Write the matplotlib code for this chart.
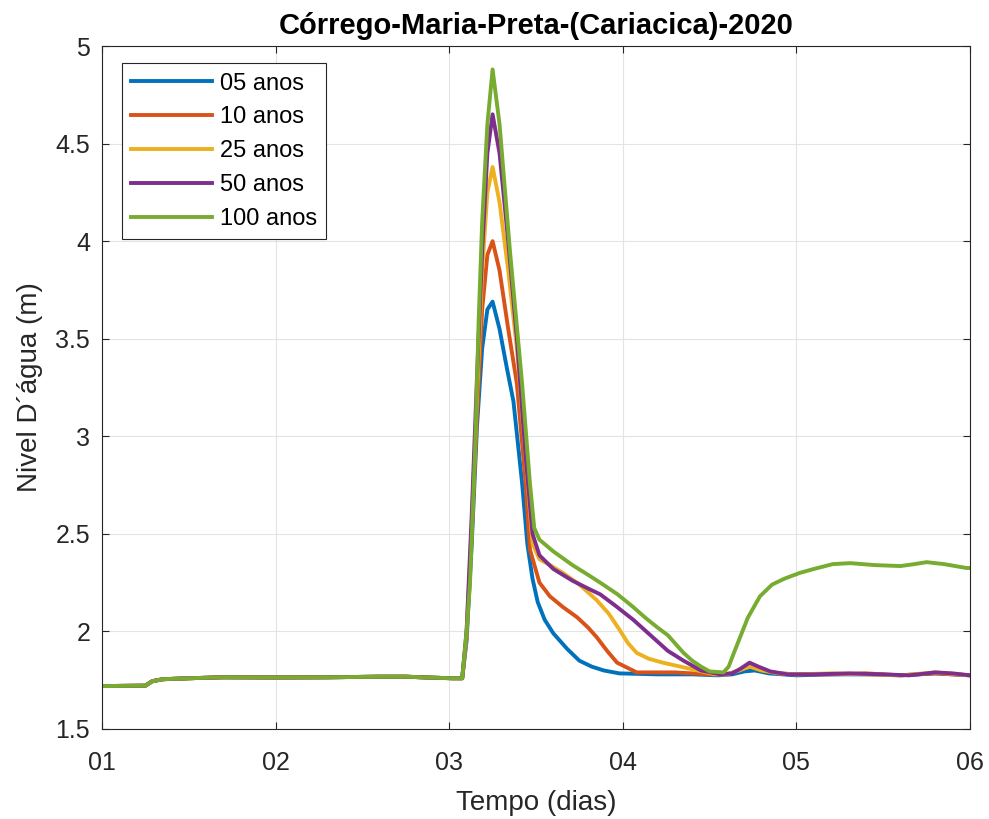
import matplotlib.pyplot as plt
from matplotlib.ticker import FuncFormatter

plt.rcParams['font.family'] = ['Liberation Sans', 'DejaVu Sans']

# baseline before the event (shared by all return periods)
t_base = [1.0, 1.25, 1.29, 1.35, 1.5, 1.7, 2.0, 2.3, 2.6, 2.75, 2.9, 3.02, 3.075]
y_base = [1.72, 1.722, 1.745, 1.755, 1.76, 1.765, 1.764, 1.765, 1.768, 1.768, 1.763, 1.76, 1.76]

t_05 = [3.1, 3.13, 3.16, 3.19, 3.22, 3.25, 3.29, 3.33, 3.37, 3.42, 3.45, 3.48, 3.51, 3.55,
        3.6, 3.68, 3.75, 3.82, 3.89, 3.98, 4.2, 4.4, 4.55, 4.63, 4.7, 4.76, 4.84, 5.0, 5.2,
        5.4, 5.6, 5.8, 6.0]
y_05 = [1.95, 2.45, 3.05, 3.45, 3.65, 3.69, 3.55, 3.36, 3.18, 2.76, 2.45, 2.27, 2.15, 2.06,
        1.99, 1.91, 1.85, 1.82, 1.8, 1.785, 1.78, 1.78, 1.775, 1.78, 1.795, 1.8, 1.785, 1.775, 1.78,
        1.78, 1.775, 1.785, 1.775]

t_10 = [3.1, 3.13, 3.16, 3.19, 3.22, 3.25, 3.29, 3.34, 3.39, 3.44, 3.465, 3.52, 3.58, 3.655,
        3.736, 3.8, 3.85, 3.91, 3.967, 4.08, 4.3, 4.5, 4.6, 4.67, 4.73, 4.8, 4.9, 5.0, 5.2,
        5.4, 5.6, 5.8, 6.0]
y_10 = [1.97, 2.5, 3.1, 3.65, 3.93, 4.0, 3.85, 3.55, 3.27, 2.76, 2.42, 2.25, 2.18, 2.125,
        2.073, 2.02, 1.97, 1.9, 1.84, 1.79, 1.79, 1.78, 1.78, 1.8, 1.82, 1.8, 1.785, 1.78, 1.78,
        1.785, 1.775, 1.785, 1.775]

t_25 = [3.1, 3.13, 3.16, 3.19, 3.22, 3.25, 3.29, 3.34, 3.39, 3.44, 3.48, 3.52, 3.58, 3.655,
        3.75, 3.85, 3.92, 3.98, 4.03, 4.08, 4.15, 4.23, 4.33, 4.43, 4.53, 4.6, 4.67, 4.73, 4.8,
        4.9, 5.0, 5.2, 5.4, 5.6, 5.8, 6.0]
y_25 = [1.98, 2.55, 3.2, 3.85, 4.25, 4.38, 4.2, 3.85, 3.45, 2.9, 2.45, 2.37, 2.34, 2.3,
        2.24, 2.16, 2.09, 2.01, 1.94, 1.89, 1.86, 1.84, 1.82, 1.8, 1.78, 1.78, 1.8, 1.82, 1.8,
        1.785, 1.78, 1.785, 1.78, 1.775, 1.79, 1.775]

t_50 = [3.1, 3.13, 3.16, 3.19, 3.22, 3.25, 3.29, 3.34, 3.39, 3.44, 3.48, 3.52, 3.6, 3.71,
        3.8, 3.87, 3.96, 4.06, 4.16, 4.26, 4.35, 4.45, 4.56, 4.63, 4.68, 4.73, 4.78, 4.85, 4.95,
        5.1, 5.3, 5.5, 5.65, 5.8, 5.9, 6.0]
y_50 = [2.0, 2.6, 3.3, 3.95, 4.45, 4.65, 4.45, 4.0, 3.5, 2.9, 2.5, 2.39, 2.32, 2.26,
        2.22, 2.19, 2.13, 2.06, 1.98, 1.9, 1.85, 1.8, 1.78, 1.785, 1.81, 1.84, 1.82, 1.795, 1.78,
        1.78, 1.785, 1.78, 1.775, 1.79, 1.785, 1.775]

t_100 = [3.1, 3.12, 3.15, 3.17, 3.19, 3.22, 3.25, 3.29, 3.35, 3.42, 3.465, 3.49, 3.52, 3.6,
         3.71, 3.8, 3.87, 3.97, 4.06, 4.13, 4.2, 4.26, 4.35, 4.4, 4.45, 4.5, 4.58, 4.61, 4.64,
         4.68, 4.72, 4.79, 4.86, 4.93, 5.02, 5.1, 5.21, 5.31, 5.45, 5.6, 5.68, 5.75, 5.85, 5.98, 6.0]
y_100 = [2.0, 2.25, 2.95, 3.6, 4.1, 4.6, 4.88, 4.6, 3.95, 3.27, 2.76, 2.53, 2.47, 2.41,
         2.34, 2.29, 2.25, 2.19, 2.125, 2.07, 2.02, 1.98, 1.89, 1.85, 1.82, 1.795, 1.79, 1.82, 1.89,
         1.98, 2.07, 2.18, 2.24, 2.27, 2.3, 2.32, 2.345, 2.35, 2.34, 2.335, 2.345, 2.355, 2.345, 2.325, 2.325]

labels = ['05 anos', '10 anos', '25 anos', '50 anos', '100 anos']
colors = ['#0072BD', '#D95319', '#EDB120', '#7E2F8E', '#77AC30']
series = [(t_05, y_05), (t_10, y_10), (t_25, y_25), (t_50, y_50), (t_100, y_100)]

fig = plt.figure(figsize=(9.89, 8.19), dpi=100)
ax = fig.add_axes([0.1031, 0.1099, 0.8777, 0.8339])

for (t, y), lab, c in zip(series, labels, colors):
    ax.plot(t_base + t, y_base + y, color=c, lw=2.8, label=lab)

ax.set_xlim(1, 6)
ax.set_ylim(1.5, 5)
ax.set_xticks([1, 2, 3, 4, 5, 6])
ax.set_xticklabels(['01', '02', '03', '04', '05', '06'])
ax.set_yticks([1.5, 2, 2.5, 3, 3.5, 4, 4.5, 5])
ax.yaxis.set_major_formatter(FuncFormatter(lambda v, p: '%g' % v))
ax.grid(True, color='#e3e3e3', lw=0.8)
ax.tick_params(direction='in', top=True, right=True, labelsize=18, colors='#262626', length=5)
ax.tick_params(axis='x', pad=15.5)
ax.tick_params(axis='y', pad=8.5)
for sp in ax.spines.values():
    sp.set_color('#262626')
    sp.set_linewidth(0.8)

ax.set_xlabel('Tempo (dias)', fontsize=20, color='#262626', labelpad=11)
ax.set_ylabel('Nivel D´água (m)', fontsize=20, color='#262626', labelpad=9)
ax.set_title('Córrego-Maria-Preta-(Cariacica)-2020', fontsize=21, fontweight='bold', pad=8.5)

leg = ax.legend(loc='upper left', bbox_to_anchor=(0.023, 0.975), borderaxespad=0, fontsize=17,
                handlelength=3.4, labelspacing=0.5, handletextpad=0.35, borderpad=0.4,
                fancybox=False, framealpha=1)
leg.get_frame().set_edgecolor('#262626')
leg.get_frame().set_linewidth(0.8)

fig.savefig('out.png', dpi=100)
